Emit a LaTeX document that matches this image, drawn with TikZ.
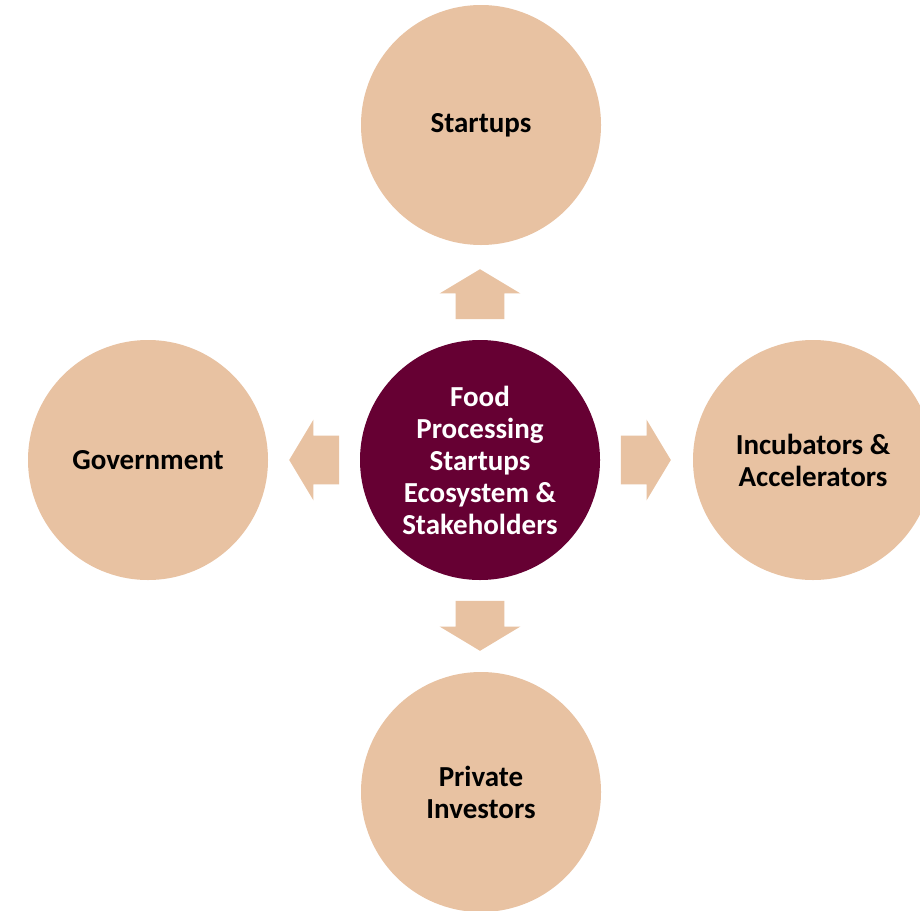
\documentclass[tikz,border=0pt]{standalone}
\usepackage{fontspec}
\setmainfont{Carlito}
\usetikzlibrary{shapes.arrows,calc}
\definecolor{peach}{HTML}{E8C2A2}
\definecolor{maroon}{HTML}{660033}

\begin{document}
\begin{tikzpicture}[x=0.5pt,y=-0.5pt,
			party/.style={circle, fill=peach, inner sep=0pt, minimum size=120pt, align=center, font=\fontsize{14.5}{16}\selectfont\bfseries, text=black},
			hub/.style={party, fill=maroon, text=white},
			blockarrow/.style={single arrow, fill=peach, inner xsep=0pt, inner ysep=12pt, minimum width=40pt, minimum height=25pt, single arrow head extend=8pt, single arrow tip angle=118, anchor=tail}
			]
			\clip (0,0) rectangle (920,910);
			\fill[white] (0,0) rectangle (920,910);
			\node[hub] (eco) at (480,460) {Food\\Processing\\Startups\\Ecosystem \&\\Stakeholders};
			\node[party] (st) at (481,125) {Startups};
			\node[party] (gov) at (148,460) {Government};
			\node[party] (inc) at (813,460) {Incubators \&\\Accelerators};
			\node[party] (inv) at (481,792) {Private\\Investors};
			\node[blockarrow, rotate=90] (a1) at ([yshift=10pt]eco.north) {};
			\node[blockarrow, rotate=180] (a2) at ([xshift=-10pt]eco.west) {};
			\node[blockarrow, rotate=0] (a3) at ([xshift=10pt]eco.east) {};
			\node[blockarrow, rotate=270] (a4) at ([yshift=-10pt]eco.south) {};
		\end{tikzpicture}
\end{document}
